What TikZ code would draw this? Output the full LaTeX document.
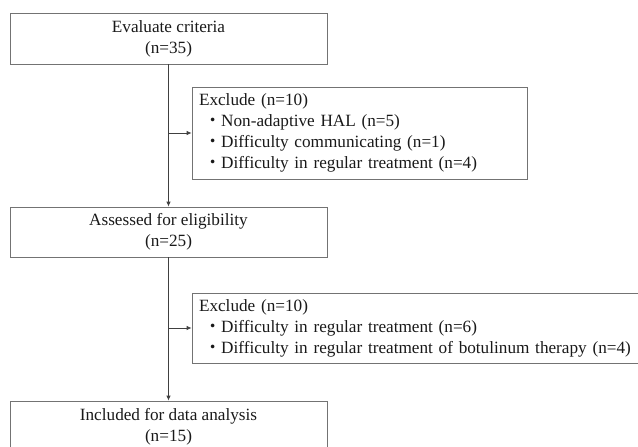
\documentclass[tikz,border=0pt]{standalone}
\usepackage{fontspec}
\setmainfont{Liberation Serif}
\newfontfamily\cjk{Noto Sans CJK JP}
\usepackage{tikz}
\usetikzlibrary{arrows.meta}
\newcommand{\itm}{\hspace*{5pt}{\cjk ・}}
\tikzset{
  >={Latex[length=5pt,width=4.5pt]},
  box/.style={draw=black!55, line width=0.8pt, inner sep=0pt, align=center,
    minimum width=317pt, minimum height=51pt, text=black!90,
    font=\fontsize{17.2}{21}\selectfont},
  exbox/.style={draw=black!55, line width=0.8pt, inner xsep=7pt, inner ysep=0pt,
    align=left, text=black!90, font=\fontsize{17.2}{21}\selectfont},
  link/.style={->, draw=black!75, line width=0.8pt}
}
\begin{document}
\begin{tikzpicture}[x=1pt, y=-1pt]

    \useasboundingbox (0, 0) rectangle (638, 447);
    \clip (0, 0) rectangle (638, 447);

    \node[box] (a) at (168.5, 38.5) {Evaluate criteria\\(n=35)};
    \node[exbox, text width=321pt, minimum height=92pt] (b) at (359.5, 133) {Exclude (n=10)\\
      \itm Non-adaptive HAL (n=5)\\
      \itm Difficulty communicating (n=1)\\
      \itm Difficulty in regular treatment (n=4)};
    \node[box, minimum height=50pt] (c) at (168.5, 232) {Assessed for eligibility\\(n=25)};
    \node[exbox, text width=494pt, minimum height=70pt] (d) at (446, 328) {Exclude (n=10)\\
      \itm Difficulty in regular treatment (n=6)\\
      \itm Difficulty in regular treatment of botulinum therapy (n=4)};
    \node[box] (e) at (168.5, 426.5) {Included for data analysis\\(n=15)};

    \coordinate (p) at (a.south |- b.west);
    \coordinate (q) at (c.south |- d.west);

    \draw [link] (a) -- (c);
    \draw [link] (c) -- (e);
    \draw [link] (p) -- (b.west);
    \draw [link] (q) -- (d.west);

  \end{tikzpicture}
\end{document}
